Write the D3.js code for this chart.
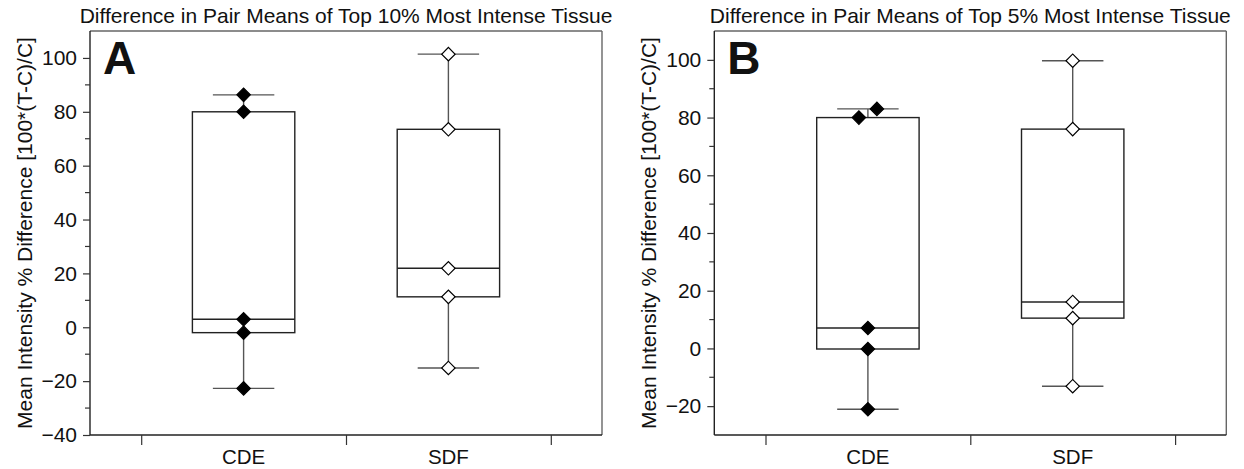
<!DOCTYPE html>
<html>
<head>
<meta charset="utf-8">
<script src="https://cdn.jsdelivr.net/npm/d3@7"></script>
<style>
  html, body { margin: 0; padding: 0; background: #fff; }
  svg { display: block; }
  text { font-family: "Liberation Sans", Arial, Helvetica, sans-serif; fill: #111; }
</style>
</head>
<body>
<svg id="chart" width="1244" height="469"></svg>
<script>
// ---------- data ----------
const categories = ["CDE", "SDF"];
const panelLabels = ["A", "B"];
const panelTitles = [
  "Difference in Pair Means of Top 10% Most Intense Tissue",
  "Difference in Pair Means of Top 5% Most Intense Tissue"
];
const yLabel = "Mean Intensity % Difference [100*(T-C)/C]";

// values per pair (percent difference)
const top10CDE = [86.3, 80.0, 3.0, -2.0, -22.7];
const top10SDF = [101.4, 73.5, 21.9, 11.3, -15.1];
const top5CDE  = [83.0, 80.0, 7.1, -0.2, -21.1];
const top5SDF  = [99.7, 76.0, 16.1, 10.5, -13.1];

const yDomainA = [-40, 110];
const yDomainB = [-30, 110];
const yTicksA = [-40, -20, 0, 20, 40, 60, 80, 100];
const yTicksB = [-20, 0, 20, 40, 60, 80, 100];
const yMinorA = [-30, -10, 10, 30, 50, 70, 90];
const yMinorB = [-10, 10, 30, 50, 70, 90];
const xBoundaryTicks = [0.5, 1.5, 2.5];

const panels = [
  { label: panelLabels[0], title: panelTitles[0], series: [top10CDE, top10SDF],
    yDomain: yDomainA, yTicks: yTicksA, yMinor: yMinorA, left: 90 },
  { label: panelLabels[1], title: panelTitles[1], series: [top5CDE, top5SDF],
    yDomain: yDomainB, yTicks: yTicksB, yMinor: yMinorB, left: 714.3 }
];

// ---------- layout ----------
const svg = d3.select("#chart");
const plotW = 512, plotTop = 31, plotBottom = 435;
const fills = ["#000", "#fff"];

panels.forEach(p => {
  const L = p.left, R = L + plotW;
  const x = d3.scaleLinear().domain([0.25, 2.75]).range([L, R]);
  const y = d3.scaleLinear().domain(p.yDomain).range([plotBottom, plotTop]);
  const g = svg.append("g");

  // frame: top & right lighter
  g.append("line").attr("x1", L).attr("x2", R).attr("y1", plotTop).attr("y2", plotTop)
    .attr("stroke", "#666").attr("stroke-width", 1.4);
  g.append("line").attr("x1", R).attr("x2", R).attr("y1", plotTop).attr("y2", plotBottom)
    .attr("stroke", "#666").attr("stroke-width", 1.4);

  // y axis (major ticks)
  const yAxis = d3.axisLeft(y).tickValues(p.yTicks).tickSize(7).tickPadding(6)
    .tickFormat(d => d < 0 ? "\u2212" + Math.abs(d) : d);
  const ya = g.append("g").attr("transform", `translate(${L},0)`).call(yAxis);
  ya.select(".domain").attr("stroke", "#222").attr("stroke-width", 1.4)
    .attr("d", `M0,${plotTop}V${plotBottom}`);
  ya.selectAll(".tick line").attr("stroke", "#333").attr("stroke-width", 1.2);
  ya.selectAll(".tick text").style("font-size", "21px").attr("fill", "#111")
    .style("font-family", '"Liberation Sans", Arial, sans-serif');
  // minor ticks
  g.selectAll(".minor").data(p.yMinor).enter().append("line")
    .attr("x1", L - 5).attr("x2", L).attr("y1", d => y(d)).attr("y2", d => y(d))
    .attr("stroke", "#333").attr("stroke-width", 1.2);

  // x axis (ticks at category boundaries, labels at category centers)
  const xAxis = d3.axisBottom(x).tickValues(xBoundaryTicks).tickSize(10).tickFormat("");
  const xa = g.append("g").attr("transform", `translate(0,${plotBottom})`).call(xAxis);
  xa.select(".domain").attr("stroke", "#222").attr("stroke-width", 1.4)
    .attr("d", `M${L},0H${R}`);
  xa.selectAll(".tick line").attr("stroke", "#333").attr("stroke-width", 1.2);
  g.selectAll(".cat").data(categories).enter().append("text")
    .attr("x", (d, i) => x(i + 1)).attr("y", 464)
    .attr("text-anchor", "middle").style("font-size", "20.5px").text(d => d);

  // title
  g.append("text").attr("x", (L + R) / 2).attr("y", 23).attr("text-anchor", "middle")
    .style("font-size", "21px").text(p.title);
  // y label
  g.append("text").attr("transform", `translate(${L - 58},${(plotTop + plotBottom) / 2}) rotate(-90)`)
    .attr("text-anchor", "middle").style("font-size", "21px").text(yLabel);
  // panel letter
  g.append("text").attr("x", L + 13).attr("y", 74).style("font-size", "46px")
    .style("font-weight", "bold").attr("fill", "#000").text(p.label);

  // boxes
  const capHalf = 0.15, boxHalf = 0.25;
  p.series.forEach((vals, i) => {
    const cx = i + 1;
    const s = vals.slice().sort(d3.ascending);
    const q1 = d3.quantile(s, 0.25), med = d3.quantile(s, 0.5), q3 = d3.quantile(s, 0.75);
    const lo = s[0], hi = s[s.length - 1];
    const wc = "#555";
    // whiskers
    g.append("line").attr("x1", x(cx)).attr("x2", x(cx)).attr("y1", y(q3)).attr("y2", y(hi))
      .attr("stroke", wc).attr("stroke-width", 1.4);
    g.append("line").attr("x1", x(cx)).attr("x2", x(cx)).attr("y1", y(q1)).attr("y2", y(lo))
      .attr("stroke", wc).attr("stroke-width", 1.4);
    [lo, hi].forEach(v => {
      g.append("line").attr("x1", x(cx - capHalf)).attr("x2", x(cx + capHalf))
        .attr("y1", y(v)).attr("y2", y(v)).attr("stroke", wc).attr("stroke-width", 1.4);
    });
    // box
    g.append("rect").attr("x", x(cx - boxHalf)).attr("y", y(q3))
      .attr("width", x(cx + boxHalf) - x(cx - boxHalf)).attr("height", y(q1) - y(q3))
      .attr("fill", "none").attr("stroke", "#222").attr("stroke-width", 1.4);
    g.append("line").attr("x1", x(cx - boxHalf)).attr("x2", x(cx + boxHalf))
      .attr("y1", y(med)).attr("y2", y(med)).attr("stroke", "#222").attr("stroke-width", 1.4);

    // points with simple overlap jitter
    const pts = s.map(v => ({ v, dx: 0 }));
    for (let k = 1; k < pts.length; k++) {
      if (Math.abs(y(pts[k].v) - y(pts[k - 1].v)) < 10 && pts[k - 1].dx === 0) {
        pts[k - 1].dx = -9; pts[k].dx = 9;
      }
    }
    const sym = d3.symbol().type(d3.symbolSquare).size(90);
    g.selectAll(null).data(pts).enter().append("path")
      .attr("d", sym)
      .attr("transform", d => `translate(${x(cx) + d.dx},${y(d.v)}) rotate(45)`)
      .attr("fill", fills[i]).attr("stroke", "#000").attr("stroke-width", 1.2);
  });
});
</script>
</body>
</html>
